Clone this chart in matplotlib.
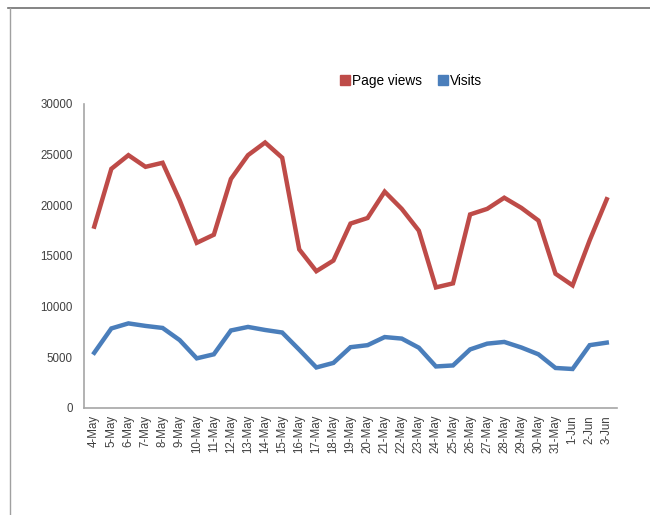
import matplotlib
matplotlib.use('Agg')
import matplotlib.pyplot as plt
from matplotlib.lines import Line2D

days = ['4-May', '5-May', '6-May', '7-May', '8-May', '9-May', '10-May', '11-May',
        '12-May', '13-May', '14-May', '15-May', '16-May', '17-May', '18-May', '19-May',
        '20-May', '21-May', '22-May', '23-May', '24-May', '25-May', '26-May', '27-May',
        '28-May', '29-May', '30-May', '31-May', '1-Jun', '2-Jun', '3-Jun']
page_views = [17900, 23600, 24950, 23800, 24200, 20500, 16300, 17100, 22600, 24950,
              26200, 24700, 15650, 13500, 14550, 18200, 18750, 21350, 19650, 17500,
              11900, 12300, 19100, 19650, 20750, 19750, 18500, 13250, 12100, 16550, 20600]
visits = [5450, 7850, 8350, 8100, 7900, 6700, 4900, 5300, 7650, 8000,
          7700, 7450, 5750, 4000, 4450, 6000, 6200, 7000, 6850, 5950,
          4100, 4200, 5780, 6350, 6520, 5970, 5300, 3950, 3850, 6200, 6450]
yticks = [0, 5000, 10000, 15000, 20000, 25000, 30000]

plt.rcParams['font.family'] = ['Liberation Sans', 'DejaVu Sans']

red = '#BE4B48'
blue = '#4A7EBB'

fig = plt.figure(figsize=(6.5, 5.15), dpi=100)
ax = fig.add_axes([84/650, 1-408/515, 533/650, 304/515])

x = range(len(days))
ax.plot(x, page_views, color=red, lw=3.2, solid_joinstyle='miter')
ax.plot(x, visits, color=blue, lw=3.2, solid_joinstyle='miter')

ax.set_xlim(-0.6, len(days) - 0.4)
ax.set_ylim(0, 30000)
ax.set_yticks(yticks)
ax.set_yticklabels([str(v) for v in yticks])
ax.set_xticks(list(x))
ax.set_xticklabels(days, rotation=90)
ax.tick_params(axis='both', length=0, labelsize=8.3, colors='#404040')
ax.tick_params(axis='y', pad=8)
ax.tick_params(axis='x', pad=5)

for s in ['top', 'right']:
    ax.spines[s].set_visible(False)
for s in ['left', 'bottom']:
    ax.spines[s].set_color('#A6A6A6')
    ax.spines[s].set_linewidth(1.2)

handles = [Line2D([], [], marker='s', ls='none', color=red, markersize=7),
           Line2D([], [], marker='s', ls='none', color=blue, markersize=7)]
fig.legend(handles, ['Page views', 'Visits'], loc='center', ncol=2,
           bbox_to_anchor=(410/650, 1-81/515), frameon=False, fontsize=9.8,
           handletextpad=0.05, columnspacing=1.0, handlelength=1.0)

# outer frame lines (top and left)
fig.add_artist(Line2D([8/650, 1.0], [1-8/515, 1-8/515], color='#707070', lw=1.2))
fig.add_artist(Line2D([10/650, 10/650], [0, 1-8/515], color='#A0A0A0', lw=1.0))

fig.savefig('out.png', dpi=100)
